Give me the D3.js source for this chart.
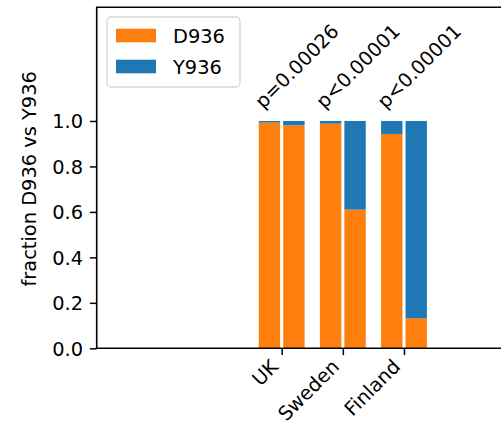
<!DOCTYPE html>
<html>
<head>
<meta charset="utf-8">
<script src="https://cdn.jsdelivr.net/npm/d3@7/dist/d3.min.js"></script>
<style>
  html, body { margin: 0; padding: 0; background: #fff; }
  text { font-family: "DejaVu Sans", sans-serif; fill: #000; }
</style>
</head>
<body>
<svg id="chart" width="501" height="426"></svg>
<script>
// Countries on the x axis
const countries = ["UK", "Sweden", "Finland"];
// Fraction of D936 in the left and right bar of each country
const fracLeft  = [0.993, 0.988, 0.943];
const fracRight = [0.981, 0.610, 0.132];
// Significance labels above each pair
const pLabels = ["p=0.00026", "p<0.00001", "p<0.00001"];
// Y tick values
const yTicks = [0.0, 0.2, 0.4, 0.6, 0.8, 1.0];
// Series shown in the legend
const seriesNames = ["D936", "Y936"];
const seriesColors = ["#ff7f0e", "#1f77b4"];

(function () {
  const fs = 19.4;              // font size, px
  const svg = d3.select("#chart");

  const axLeft = 96.7, axTop = 7.3, axBottom = 348.3, step = 61.15;
  const x = d3.scaleLinear().domain([-3.025, 4.5]).range([axLeft, axLeft + 7.525 * step]);
  const y = d3.scaleLinear().domain([0, 1.5]).range([axBottom, axTop]);

  const barW = 0.35, offset = 0.2;

  // Stacked segments: D936 (bottom) and Y936 (top) for each bar
  const bars = [];
  countries.forEach((c, i) => {
    [[fracLeft[i], -offset], [fracRight[i], offset]].forEach(([f, o]) => {
      bars.push({ x0: i + o - barW / 2, y0: 0, y1: f, color: seriesColors[0] });
      bars.push({ x0: i + o - barW / 2, y0: f, y1: 1, color: seriesColors[1] });
    });
  });

  svg.append("g").selectAll("rect").data(bars).join("rect")
    .attr("x", d => x(d.x0))
    .attr("width", d => x(d.x0 + barW) - x(d.x0))
    .attr("y", d => y(d.y1))
    .attr("height", d => y(d.y0) - y(d.y1))
    .attr("fill", d => d.color);

  // Axes
  const tickLen = 6.8, pad = 6.8;
  const yAxis = d3.axisLeft(y).tickValues(yTicks).tickFormat(d3.format(".1f"))
    .tickSize(tickLen).tickPadding(pad);
  const gy = svg.append("g").attr("transform", `translate(${axLeft},0)`).call(yAxis);
  gy.select(".domain").remove();
  gy.selectAll("line").attr("stroke", "#000").attr("stroke-width", 1.5);
  gy.selectAll("text").attr("font-size", fs).attr("font-family", "DejaVu Sans")
    .attr("dy", "0.35em");

  // Rotated country labels, right end hanging from each tick
  const xAxis = d3.axisBottom(x).tickValues(d3.range(countries.length))
    .tickFormat(i => countries[i]).tickSize(tickLen).tickPadding(pad);
  const gx = svg.append("g").attr("transform", `translate(0,${axBottom})`).call(xAxis);
  gx.select(".domain").remove();
  gx.selectAll("line").attr("stroke", "#000").attr("stroke-width", 1.5);
  gx.selectAll("text").attr("font-size", fs).attr("font-family", "DejaVu Sans")
    .attr("text-anchor", "end")
    .attr("y", 0).attr("dy", 0)
    .attr("transform", `translate(-3,${tickLen + pad + 6}) rotate(-45)`);

  // Spines (left, top, bottom; the right edge lies outside the view)
  const xr = x.range()[1];
  svg.append("path")
    .attr("d", `M${xr},${axTop}H${axLeft}V${axBottom}H${xr}`)
    .attr("fill", "none").attr("stroke", "#000").attr("stroke-width", 1.6);

  // Y axis label
  svg.append("text")
    .attr("transform", `translate(35.5,${(axTop + axBottom) / 2 + 1}) rotate(-90)`)
    .attr("text-anchor", "middle")
    .attr("font-size", fs)
    .text("fraction D936 vs Y936");

  // Significance labels
  svg.append("g").selectAll("text").data(pLabels).join("text")
    .attr("transform", (d, i) => `translate(${x(i) - 18.5},${y(1) - 11.5}) rotate(-45)`)
    .attr("font-size", fs)
    .text(d => d);

  // Legend
  const lg = svg.append("g");
  const lx = 107, ly = 17, lw = 133, lh = 70;
  lg.append("rect").attr("x", lx).attr("y", ly).attr("width", lw).attr("height", lh)
    .attr("rx", 4).attr("fill", "#fff").attr("fill-opacity", 0.8)
    .attr("stroke", "#d6d6d6").attr("stroke-width", 1.3);
  seriesNames.forEach((n, k) => {
    const cy = 35.5 + k * 31;
    lg.append("rect").attr("x", 116).attr("y", cy - 6.8).attr("width", 40).attr("height", 13.6)
      .attr("fill", seriesColors[k]);
    lg.append("text").attr("x", 173).attr("y", cy + 7).attr("font-size", fs).text(n);
  });
})();
</script>
</body>
</html>
